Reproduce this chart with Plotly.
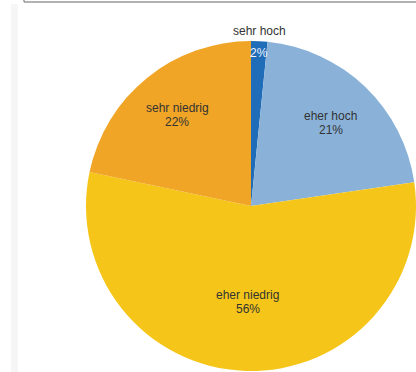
import math
import plotly.graph_objects as go

labels = ["sehr hoch", "eher hoch", "eher niedrig", "sehr niedrig"]
values = [1.6, 21.1, 55.6, 21.7]
colors = ["#1f6cb8", "#8ab2d8", "#f5c619", "#f0a526"]

W, H = 416, 372
cx, cy, r = 251, 206, 165
FONT = "Liberation Sans, Arial, Helvetica, sans-serif"

fig = go.Figure()
fig.add_trace(go.Pie(
    labels=labels,
    values=values,
    sort=False,
    direction="clockwise",
    rotation=0,
    marker=dict(colors=colors, line=dict(width=0)),
    textinfo="none",
    hoverinfo="label+percent",
    showlegend=False,
    domain=dict(x=[max(0, (cx - r) / W), min(1, (cx + r) / W)],
                y=[max(0, (H - cy - r) / H), min(1, (H - cy + r) / H)]),
))

# label placement (style): radial fraction for label and percent per slice
label_frac = [1.06, 0.70, 0.58, 0.71]
pct_frac = [0.93, 0.70, 0.58, 0.71]
pct_color = ["#eef3fa", "#333333", "#333333", "#333333"]

total = sum(values)
cum = 0.0
for i, (lab, v) in enumerate(zip(labels, values)):
    mid = (cum + v / 2) / total * 2 * math.pi
    cum += v
    pct = f"{round(v / total * 100)}%"
    same = label_frac[i] == pct_frac[i]
    for txt, frac, col, shift in [
        (lab, label_frac[i], "#333333", 7 if same else 0),
        (pct, pct_frac[i], pct_color[i], -7 if same else 0),
    ]:
        px = cx + frac * r * math.sin(mid)
        py = cy - frac * r * math.cos(mid)
        fig.add_annotation(
            x=px / W, y=(H - py) / H, xref="paper", yref="paper",
            xanchor="center", yanchor="middle",
            text=txt, showarrow=False, yshift=shift,
            font=dict(family=FONT, size=12, color=col),
        )

fig.add_shape(type="line", xref="paper", yref="paper",
              x0=24 / W, x1=1, y0=(H - 2) / H, y1=(H - 2) / H,
              line=dict(color="#999999", width=1.5))
fig.add_shape(type="line", xref="paper", yref="paper",
              x0=24 / W, x1=24 / W, y0=(H - 2) / H, y1=1,
              line=dict(color="#999999", width=1.5))
fig.add_shape(type="rect", xref="paper", yref="paper",
              x0=11 / W, x1=18 / W, y0=0, y1=(H - 4) / H,
              fillcolor="#f6f6f6", line=dict(width=0), layer="below")

fig.update_layout(
    width=W, height=H,
    margin=dict(l=0, r=0, t=0, b=0),
    paper_bgcolor="white",
    plot_bgcolor="white",
)

fig.write_html("out.html", config={"displayModeBar": False},
               post_script="document.body.style.margin='0';document.body.style.padding='0';")
